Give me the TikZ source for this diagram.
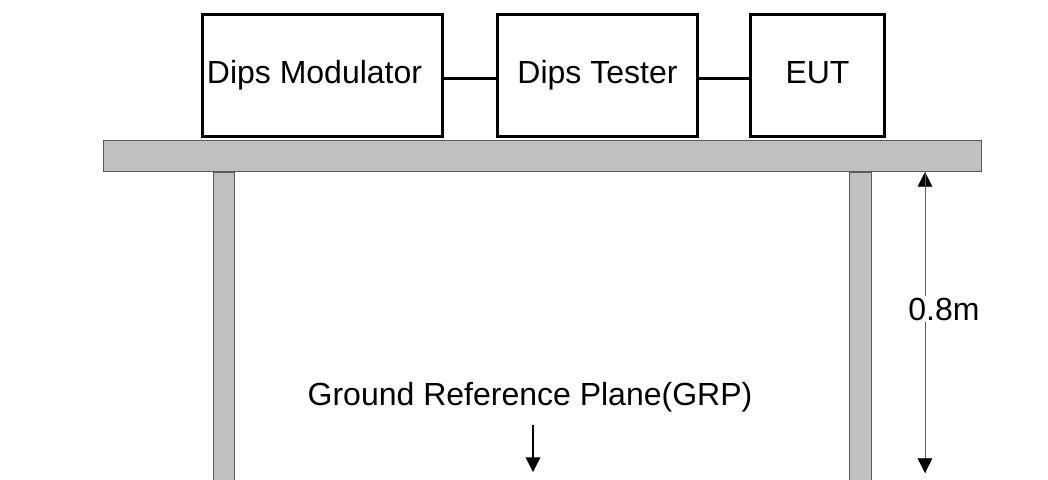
\documentclass[tikz,border=0pt]{standalone}
\usepackage{fontspec}
\setmainfont{Liberation Sans}
\usetikzlibrary{arrows.meta}
\definecolor{tablegray}{RGB}{192,192,192}
\definecolor{edgegray}{RGB}{90,90,90}
\tikzset{
  unitbox/.style={draw, line width=2.25pt, fill=white, inner sep=0pt, minimum height=91.5pt, text height=17pt, text depth=5pt, font=\fontsize{24}{28}\selectfont},
  wood/.style={draw=edgegray, fill=tablegray, line width=0.75pt},
  tip/.style={-{Triangle[width=11pt,length=11pt,color=black]}}
}
\begin{document}
\begin{tikzpicture}[x=0.75pt,y=0.75pt,yscale=-1,xscale=1]
		\useasboundingbox (0,0) rectangle (1048,479); %set diagram size

		%Shape: Table legs
		\draw [wood] (213.5,172) -- (234.5,172) -- (234.5,482) -- (213.5,482) -- cycle ;
		\draw [wood] (849.5,172) -- (871.5,172) -- (871.5,482) -- (849.5,482) -- cycle ;
		%Shape: Table top
		\draw [wood] (103.5,140.5) -- (981.5,140.5) -- (981.5,171.5) -- (103.5,171.5) -- cycle ;

		% Boxes
		\node [unitbox, minimum width=180pt] (mod) at (322.5,75.5) {Dips Modulator\hspace*{12pt}};
		\node [unitbox, minimum width=150pt] (tester) at (597.5,75.5) {Dips Tester};
		\node [unitbox, minimum width=100.5pt] (eut) at (817.5,75.5) {EUT};

		%Straight Lines
		\draw [line width=2.25pt] (mod.east |- 0,78) -- (tester.west |- 0,78) ;
		\draw [line width=2.25pt] (tester.east |- 0,78) -- (eut.west |- 0,78) ;

		% Height arrow
		\coordinate (htop) at (925,172) ;
		\coordinate (hbot) at (925,473) ;
		\draw [color=edgegray, line width=0.6pt, tip] (hbot) -- (htop) ;
		\draw [color=edgegray, line width=0.6pt, tip] (htop) -- (hbot) ;
		\node [fill=white, inner sep=1pt, font=\fontsize{24}{28}\selectfont] (height) at (944,309) {0.8m};

		% Text Node
		\node [font=\fontsize{24}{28}\selectfont] (grp) at (530,397) {Ground Reference Plane(GRP)};
		\coordinate (grpend) at (533,472) ;
		\draw [line width=1pt, tip] (grp.south -| grpend) ++(0,8) -- (grpend) ;

\end{tikzpicture}
\end{document}
